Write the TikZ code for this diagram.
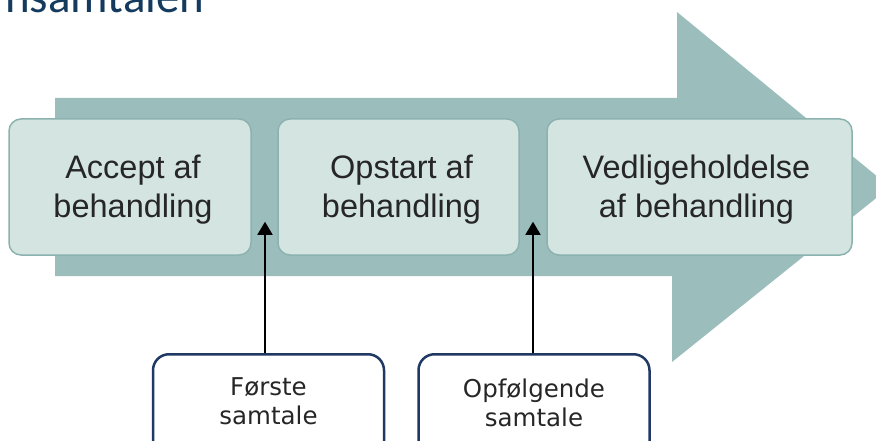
\documentclass[tikz,border=0pt]{standalone}
\usepackage{fontspec}
\setmainfont{Liberation Sans}
\newfontfamily\talkfont{DejaVu Sans}
\newfontfamily\titlefont{Carlito}
\usetikzlibrary{arrows.meta,calc}
\definecolor{arrowfill}{RGB}{155,189,187}
\definecolor{stepfill}{RGB}{212,229,225}
\definecolor{stepdraw}{RGB}{140,178,175}
\definecolor{navy}{RGB}{31,56,100}
\definecolor{titlecol}{RGB}{20,58,94}
\definecolor{txt}{RGB}{38,38,38}
\begin{document}
\begin{tikzpicture}[x=1pt,y=-1pt,
  stepbox/.style={draw=stepdraw, line width=1.5pt, fill=stepfill, rounded corners=12pt,
    inner sep=0pt, minimum height=136pt},
  steptext/.style={inner sep=0pt, text=txt, font=\fontsize{32.5}{39}\selectfont, align=center},
  talkbox/.style={draw=navy, line width=2.5pt, rounded corners=16pt, inner sep=0pt,
    minimum width=231pt, minimum height=120pt},
  talktext/.style={text=txt, font=\talkfont\fontsize{24.5}{29}\selectfont, align=center, inner sep=0pt},
  pointer/.style={draw=black, line width=1.6pt, -{Triangle[width=15pt,length=13pt]}}
]
\useasboundingbox (0,0) rectangle (876,441);
\clip (0,0) rectangle (876,441);
% big background arrow
\fill[arrowfill] (55,98) -- (677,98) -- (677,12) -- (890,187) -- (672,362) -- (672,276) -- (55,276) -- cycle;
% title (cut off)
\node[anchor=base west, inner sep=0pt, text=titlecol, font=\titlefont\fontsize{47}{47}\selectfont] (title) at (5,13) {nsamtalen};
% steps
\node[stepbox, minimum width=242pt] (s1) at (130,187) {};
\node[stepbox, minimum width=241pt] (s2) at (398.5,187) {};
\node[stepbox, minimum width=305pt] (s3) at (699.5,187) {};
\node[steptext] (s1t) at ($(s1.center)+(3,3)$) {Accept af\\behandling};
\node[steptext] (s2t) at ($(s2.center)+(3,3)$) {Opstart af\\behandling};
\node[steptext] (s3t) at ($(s3.center)+(-3,3)$) {Vedligeholdelse\\af behandling};
% talk boxes
\node[talkbox, anchor=north] (b1) at (268.5,353) {};
\node[talkbox, anchor=north] (b2) at (534,353) {};
\node[talktext] (t1) at (268.5,401) {Første\\samtale};
\node[talktext] (t2) at (534,403) {Opfølgende\\samtale};
% pointers
\coordinate (g1) at ($(s1.south east)!0.5!(s2.south west) + (0.5,-34)$);
\coordinate (g2) at ($(s2.south east)!0.5!(s3.south west) + (0,-34)$);
\draw[pointer] (b1.north -| g1) -- (g1);
\draw[pointer] (b2.north -| g2) -- (g2);
\end{tikzpicture}
\end{document}
